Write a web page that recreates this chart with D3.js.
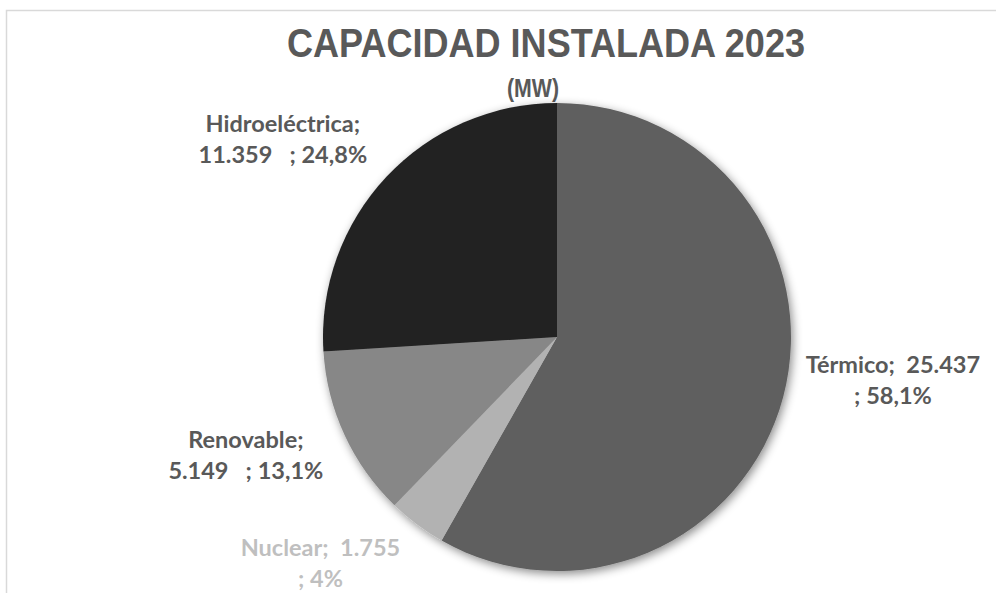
<!DOCTYPE html>
<html>
<head>
<meta charset="utf-8">
<script src="https://cdn.jsdelivr.net/npm/d3@7"></script>
<style>
  html, body { margin: 0; padding: 0; background: #ffffff; }
  svg { display: block; }
</style>
</head>
<body>
<svg id="chart" width="996" height="593"></svg>
<script>
// ---- data ----
const categories = ["Térmico", "Nuclear", "Renovable", "Hidroeléctrica"];
const values = [25437, 1755, 5149, 11359];
const percentLabels = ["58,1%", "4%", "13,1%", "24,8%"];
const titleText = "CAPACIDAD INSTALADA 2023";
const subtitleText = "(MW)";

// ---- styles / layout ----
const W = 996, H = 593;
const cx = 557, cy = 337, R = 234;
const sliceColors = ["#5f5f5f", "#b2b2b2", "#878787", "#222222"];
const labelColors = ["#595959", "#bfbfbf", "#595959", "#595959"];
const es = d3.formatLocale({decimal: ",", thousands: ".", grouping: [3], currency: ["", ""]});
const fmt = es.format(",d");
const labelLines = [
  d => [categories[d] + ";  " + fmt(values[d]), "; " + percentLabels[d]],
  d => [categories[d] + ";  " + fmt(values[d]), "; " + percentLabels[d]],
  d => [categories[d] + ";", fmt(values[d]) + "   ; " + percentLabels[d]],
  d => [categories[d] + ";", fmt(values[d]) + "   ; " + percentLabels[d]]
];
const labelRadius = 335;
const labelNudge = [[12, -49], [-36, -49], [-7, -29], [-30, 24]];
const lineGap = 31;

const svg = d3.select("#chart");

// shadow filter
const defs = svg.append("defs");
const f = defs.append("filter").attr("id", "shadow")
  .attr("x", "-20%").attr("y", "-20%").attr("width", "140%").attr("height", "140%");
f.append("feDropShadow").attr("dx", 2).attr("dy", 3).attr("stdDeviation", 5)
  .attr("flood-color", "#000").attr("flood-opacity", 0.45);

// border (chart frame, cropped)
svg.append("path")
  .attr("d", `M6.5,${H} V10.5 H${W}`)
  .attr("fill", "none").attr("stroke", "#d9d9d9").attr("stroke-width", 1.5);

// title
svg.append("text")
  .attr("x", 546).attr("y", 57)
  .attr("text-anchor", "middle")
  .attr("font-family", "Liberation Sans, Arial, sans-serif")
  .attr("font-weight", "bold").attr("font-size", 40)
  .attr("fill", "#595959")
  .attr("textLength", 518).attr("lengthAdjust", "spacingAndGlyphs")
  .text(titleText);
svg.append("text")
  .attr("x", 533).attr("y", 97)
  .attr("text-anchor", "middle")
  .attr("font-family", "Liberation Sans, Arial, sans-serif")
  .attr("font-weight", "bold").attr("font-size", 26)
  .attr("fill", "#595959")
  .attr("textLength", 52).attr("lengthAdjust", "spacingAndGlyphs")
  .text(subtitleText);

// pie
const pie = d3.pie().sort(null).value(d => d)(values);
const arc = d3.arc().innerRadius(0).outerRadius(R);
const g = svg.append("g").attr("transform", `translate(${cx},${cy})`);
g.append("g").attr("filter", "url(#shadow)")
  .selectAll("path").data(pie).join("path")
  .attr("d", arc)
  .attr("fill", (d, i) => sliceColors[i]);

// labels
pie.forEach((d, i) => {
  const mid = (d.startAngle + d.endAngle) / 2;
  const lx = labelRadius * Math.sin(mid) + labelNudge[i][0];
  const ly = -labelRadius * Math.cos(mid) + labelNudge[i][1];
  const t = g.append("text")
    .attr("text-anchor", "middle")
    .attr("font-family", "Lato, 'Open Sans', sans-serif")
    .attr("font-weight", "bold").attr("font-size", 23.5)
    .attr("fill", labelColors[i])
    .style("white-space", "pre");
  labelLines[i](i).forEach((line, k) => {
    t.append("tspan").attr("x", lx).attr("y", ly + k * lineGap).text(line);
  });
});
</script>
</body>
</html>
